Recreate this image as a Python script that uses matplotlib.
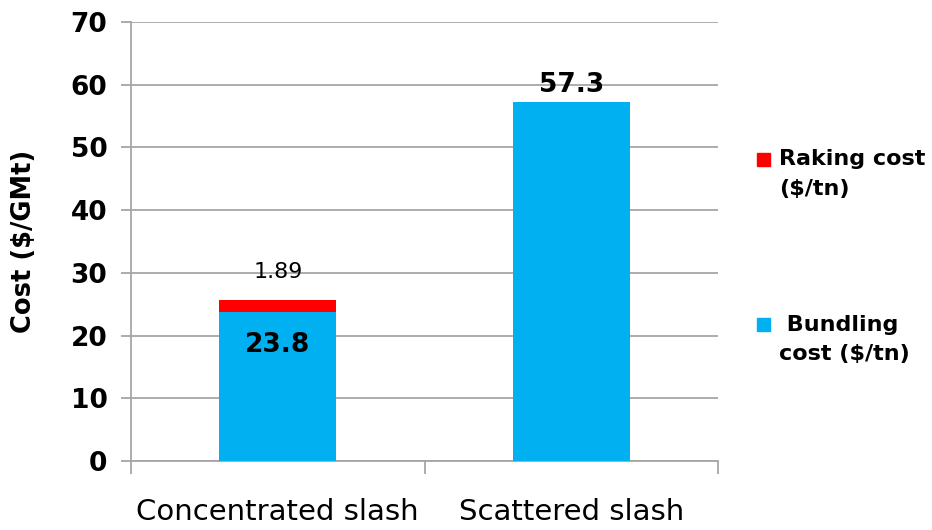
import numpy as np
import matplotlib.pyplot as plt
from matplotlib.patches import Rectangle

categories = ["Concentrated slash", "Scattered slash"]
bundling = [23.8, 57.3]
raking = [1.89, 0.0]
series_names = ["Raking cost\n($/tn)", " Bundling\ncost ($/tn)"]

blue = "#00B0F0"
red = "#FF0000"
grey = "#A6A6A6"

fig = plt.figure(figsize=(9.32, 5.30), dpi=100)
ax = fig.add_axes([0.1406, 0.1302, 0.6298, 0.8283])

x = np.arange(len(categories))
ax.bar(x, bundling, width=0.4, color=blue, zorder=3)
ax.bar(x, raking, width=0.4, bottom=bundling, color=red, zorder=3)

ax.set_xlim(-0.5, 1.5)
ax.set_ylim(0, 70)
ax.set_yticks(np.arange(0, 71, 10))
ax.yaxis.grid(True, color=grey, linewidth=1.3, zorder=0)

for s in ["top", "right"]:
    ax.spines[s].set_visible(False)
for s in ["left", "bottom"]:
    ax.spines[s].set_color(grey)
    ax.spines[s].set_linewidth(1.3)

ax.tick_params(axis="y", length=7, width=1.3, color=grey, labelsize=19, pad=10)
for lab in ax.get_yticklabels():
    lab.set_fontweight("bold")

# category labels sit between the boundary ticks
ax.set_xticks(x)
ax.set_xticklabels(categories, fontsize=21)
ax.tick_params(axis="x", length=0, pad=27)
ax.set_xticks([-0.5, 0.5, 1.5], minor=True)
ax.tick_params(axis="x", which="minor", length=9, width=1.3, color=grey)

ax.set_ylabel("Cost ($/GMt)", fontsize=18.5, fontweight="bold", labelpad=24)

# value labels
ax.text(x[0], bundling[0] - 5.3, f"{bundling[0]}", ha="center", va="center",
        fontsize=19, fontweight="bold", zorder=4)
ax.text(x[0], bundling[0] + raking[0] + 4.4, f"{raking[0]}", ha="center",
        va="center", fontsize=16, zorder=4)
ax.text(x[1], bundling[1] + 2.6, f"{bundling[1]}", ha="center", va="center",
        fontsize=19, fontweight="bold", zorder=4)

# legend: square swatch beside the first line of each entry
for color, name, ytop in [(red, series_names[0], 0.712), (blue, series_names[1], 0.400)]:
    fig.patches.append(Rectangle((0.812, ytop - 0.025), 0.014, 0.025,
                                 transform=fig.transFigure, color=color))
    fig.text(0.836, ytop + 0.006, name, ha="left", va="top", fontsize=16,
             fontweight="bold", linespacing=1.6)

fig.savefig("out.png", dpi=100)
